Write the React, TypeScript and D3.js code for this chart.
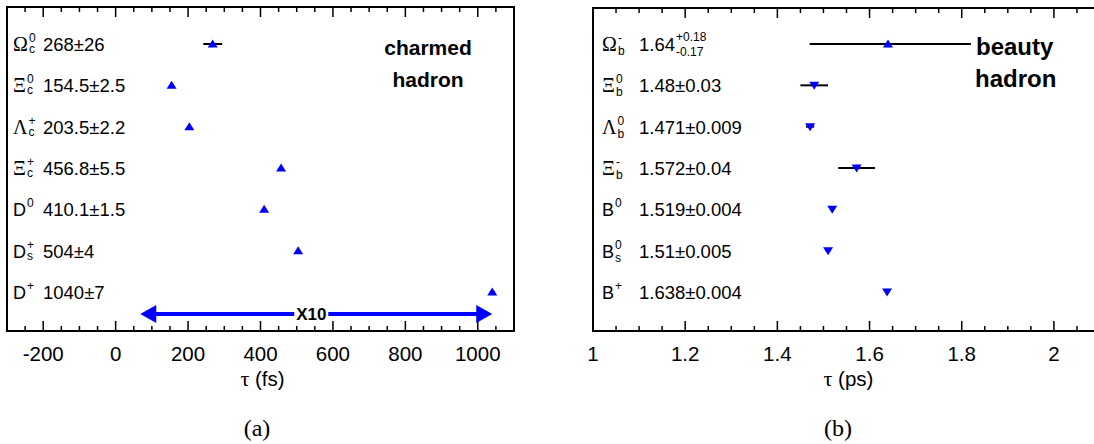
import React from "react";
import * as d3 from "d3";

// ---------- data ----------
const charmSymbols = ["Ω", "Ξ", "Λ", "Ξ", "D", "D", "D"];
const charmSubs = ["c", "c", "c", "c", "", "s", ""];
const charmSups = ["0", "0", "+", "+", "0", "+", "+"];
const charmValueText = ["268±26", "154.5±2.5", "203.5±2.2", "456.8±5.5", "410.1±1.5", "504±4", "1040±7"];
const charmTau = [268, 154.5, 203.5, 456.8, 410.1, 504, 1040];
const charmErr = [26, 2.5, 2.2, 5.5, 1.5, 4, 7];
const charmTickValues = [-200, 0, 200, 400, 600, 800, 1000];
const charmTickLabels = ["-200", "0", "200", "400", "600", "800", "1000"];
const charmDomain = [-300, 1100];
const charmArrow = [68, 1040];
const charmArrowText = "X10";
const charmTitle = ["charmed", "hadron"];
const charmAxisTitle = "τ (fs)";

const beautySymbols = ["Ω", "Ξ", "Λ", "Ξ", "B", "B", "B"];
const beautySubs = ["b", "b", "b", "b", "", "s", ""];
const beautySups = ["-", "0", "0", "-", "0", "0", "+"];
const beautyValueText = ["1.64", "1.48±0.03", "1.471±0.009", "1.572±0.04", "1.519±0.004", "1.51±0.005", "1.638±0.004"];
const beautyValueSup = ["+0.18", "", "", "", "", "", ""];
const beautyValueSub = ["-0.17", "", "", "", "", "", ""];
const beautyTau = [1.64, 1.48, 1.471, 1.572, 1.519, 1.51, 1.638];
const beautyErrLo = [0.17, 0.03, 0.009, 0.04, 0.004, 0.005, 0.004];
const beautyErrHi = [0.18, 0.03, 0.009, 0.04, 0.004, 0.005, 0.004];
const beautyMarkers = ["up", "down", "down", "down", "down", "down", "down"];
const beautyTickValues = [1, 1.2, 1.4, 1.6, 1.8, 2];
const beautyTickLabels = ["1", "1.2", "1.4", "1.6", "1.8", "2"];
const beautyDomain = [1, 2.1];
const beautyTitle = ["beauty", "hadron"];
const beautyAxisTitle = "τ (ps)";

const rowIndex = [0, 1, 2, 3, 4, 5, 6];

// ---------- helpers ----------
const SANS = "'Liberation Sans', Arial, Helvetica, sans-serif";
const SERIF = "'Liberation Serif', 'Times New Roman', serif";
const CAPTION = "'DejaVu Serif', 'Liberation Serif', serif";
const BLUE = "#0000ff";

const charW: Record<string, number> = {
  "0": 0.556, "1": 0.556, "2": 0.556, "3": 0.556, "4": 0.556, "5": 0.556,
  "6": 0.556, "7": 0.556, "8": 0.556, "9": 0.556, "+": 0.584, "-": 0.333,
  ".": 0.278, c: 0.5, s: 0.5, b: 0.556,
};
const textW = (s: string, size: number) =>
  s.split("").reduce((a, ch) => a + (charW[ch] ?? 0.556) * size, 0);

const isGreek = (s: string) => /[Α-ω]/.test(s);

function Scripted({ x, y, base, sup, sub, size, scriptSize, supDy, subDy, baseSerif }: any) {
  const sw = sup ? textW(sup, scriptSize) : 0;
  return (
    <text x={x} y={y} fontFamily={SANS} fontSize={size} fill="#000">
      <tspan fontFamily={baseSerif ? SERIF : SANS} fontSize={baseSerif ? size + 2 : size}>{base}</tspan>
      {sup ? (
        <tspan fontSize={scriptSize} dx={1} dy={supDy}>{sup}</tspan>
      ) : null}
      {sub ? (
        <tspan fontSize={scriptSize} dx={sup ? -sw : 1} dy={sup ? subDy - supDy : subDy}>{sub}</tspan>
      ) : null}
    </text>
  );
}

function tri(x: number, y: number, dir: string) {
  if (dir === "up") return `${x},${y - 4.5} ${x - 5},${y + 3.5} ${x + 5},${y + 3.5}`;
  return `${x - 5},${y - 3.5} ${x + 5},${y - 3.5} ${x},${y + 4.5}`;
}

function Frame({ x0, x1, y0, y1, x, minorStep, majorStep, tickValues, tickLabels, axisTitle, closeRight }: any) {
  const [d0, d1] = x.domain();
  const n = Math.round((d1 - d0) / minorStep);
  const minors = d3.range(n + 1).map((i) => d0 + i * minorStep);
  const isMajor = (v: number) => Math.abs(v / majorStep - Math.round(v / majorStep)) < 1e-6;
  return (
    <g>
      {minors.map((v, i) => {
        const px = x(v);
        const len = isMajor(v) ? 10 : 5;
        return (
          <g key={i}>
            <line x1={px} x2={px} y1={y1} y2={y1 - len} stroke="#000" strokeWidth={1.5} />
            <line x1={px} x2={px} y1={y0} y2={y0 + len} stroke="#000" strokeWidth={1.5} />
          </g>
        );
      })}
      <path
        d={closeRight
          ? `M${x0},${y0}H${x1}V${y1}H${x0}Z`
          : `M${x1 + 20},${y0}H${x0}V${y1}H${x1 + 20}`}
        fill="none" stroke="#000" strokeWidth={2}
      />
      {tickValues.map((v: number, i: number) => (
        <text key={i} x={x(v)} y={361} textAnchor="middle" fontFamily={SANS} fontSize={20.5} fill="#000">
          {tickLabels[i]}
        </text>
      ))}
      <text x={(x0 + Math.min(x1, 1094 + 6)) / 2 + 2} y={386} textAnchor="middle" fontFamily={SANS} fontSize={20.5} fill="#000">
        <tspan fontFamily={SERIF} fontSize={22}>{axisTitle.slice(0, 1)}</tspan>
        <tspan>{axisTitle.slice(1)}</tspan>
      </text>
    </g>
  );
}

export default function App() {
  const W = 1094, H = 444;
  const L = { x0: 7, x1: 514, y0: 7, y1: 331 };
  const R = { x0: 593, x1: 1100, y0: 8, y1: 331 };

  const xL = d3.scaleLinear().domain(charmDomain).range([L.x0, L.x1]);
  const xR = d3.scaleLinear().domain(beautyDomain).range([R.x0, R.x1]);
  const yRow = d3.scalePoint<number>().domain(rowIndex).range([44, 292]);

  const arrY = 314;
  const aL = xL(charmArrow[0]);
  const aR = xL(charmArrow[1]);
  const aMid = (aL + aR) / 2 - 5;

  return (
    <svg width={W} height={H} style={{ position: "absolute", left: 0, top: 0, background: "#fff" }}>
      <rect x={0} y={0} width={W} height={H} fill="#fff" />

      {/* ---------- left panel ---------- */}
      <Frame x0={L.x0} x1={L.x1} y0={L.y0} y1={L.y1} x={xL} minorStep={50} majorStep={200}
        tickValues={charmTickValues} tickLabels={charmTickLabels} axisTitle={charmAxisTitle} closeRight />
      {rowIndex.map((i) => {
        const y = yRow(i)!;
        return (
          <g key={"c" + i}>
            <Scripted x={13} y={y + 7} base={charmSymbols[i]} sup={charmSups[i]} sub={charmSubs[i]}
              size={18} scriptSize={12} supDy={-9} subDy={2} baseSerif={isGreek(charmSymbols[i])} />
            <text x={43} y={y + 7} fontFamily={SANS} fontSize={18.5} fill="#000">{charmValueText[i]}</text>
            <line x1={xL(charmTau[i] - charmErr[i])} x2={xL(charmTau[i] + charmErr[i])} y1={y} y2={y}
              stroke="#000" strokeWidth={2} />
            <polygon points={tri(xL(charmTau[i]), y, "up")} fill={BLUE} />
          </g>
        );
      })}
      {/* arrow */}
      <line x1={aL + 14} x2={aR - 14} y1={arrY} y2={arrY} stroke={BLUE} strokeWidth={4} />
      <polygon points={`${aL},${arrY} ${aL + 16},${arrY - 9} ${aL + 16},${arrY + 9}`} fill={BLUE} />
      <polygon points={`${aR},${arrY} ${aR - 16},${arrY - 9} ${aR - 16},${arrY + 9}`} fill={BLUE} />
      <rect x={aMid - 17} y={arrY - 8} width={34} height={16} fill="#fff" />
      <text x={aMid} y={arrY + 6} textAnchor="middle" fontFamily={SANS} fontWeight="bold" fontSize={17} fill="#000">
        {charmArrowText}
      </text>
      <text x={428} y={55} textAnchor="middle" fontFamily={SANS} fontWeight="bold" fontSize={21} fill="#000">{charmTitle[0]}</text>
      <text x={428} y={87} textAnchor="middle" fontFamily={SANS} fontWeight="bold" fontSize={21} fill="#000">{charmTitle[1]}</text>

      {/* ---------- right panel ---------- */}
      <Frame x0={R.x0} x1={R.x1} y0={R.y0} y1={R.y1} x={xR} minorStep={0.05} majorStep={0.2}
        tickValues={beautyTickValues} tickLabels={beautyTickLabels} axisTitle={beautyAxisTitle} closeRight={false} />
      {rowIndex.map((i) => {
        const y = yRow(i)!;
        return (
          <g key={"b" + i}>
            <Scripted x={602} y={y + 7} base={beautySymbols[i]} sup={beautySups[i]} sub={beautySubs[i]}
              size={18} scriptSize={12} supDy={-9} subDy={4} baseSerif={isGreek(beautySymbols[i])} />
            <Scripted x={639} y={y + 7} base={beautyValueText[i]} sup={beautyValueSup[i]} sub={beautyValueSub[i]}
              size={18.5} scriptSize={12} supDy={-10} subDy={5} baseSerif={false} />
            <line x1={xR(beautyTau[i] - beautyErrLo[i])} x2={xR(beautyTau[i] + beautyErrHi[i])} y1={y} y2={y}
              stroke="#000" strokeWidth={2} />
            <polygon points={tri(xR(beautyTau[i]), y, beautyMarkers[i])} fill={BLUE} />
          </g>
        );
      })}
      <text x={976} y={55} fontFamily={SANS} fontWeight="bold" fontSize={24} fill="#000">{beautyTitle[0]}</text>
      <text x={975} y={87} fontFamily={SANS} fontWeight="bold" fontSize={24} fill="#000">{beautyTitle[1]}</text>

      {/* captions */}
      <text x={257} y={436} textAnchor="middle" fontFamily={SERIF} fontSize={24} fill="#000">(a)</text>
      <text x={838} y={436} textAnchor="middle" fontFamily={SERIF} fontSize={24} fill="#000">(b)</text>
    </svg>
  );
}
